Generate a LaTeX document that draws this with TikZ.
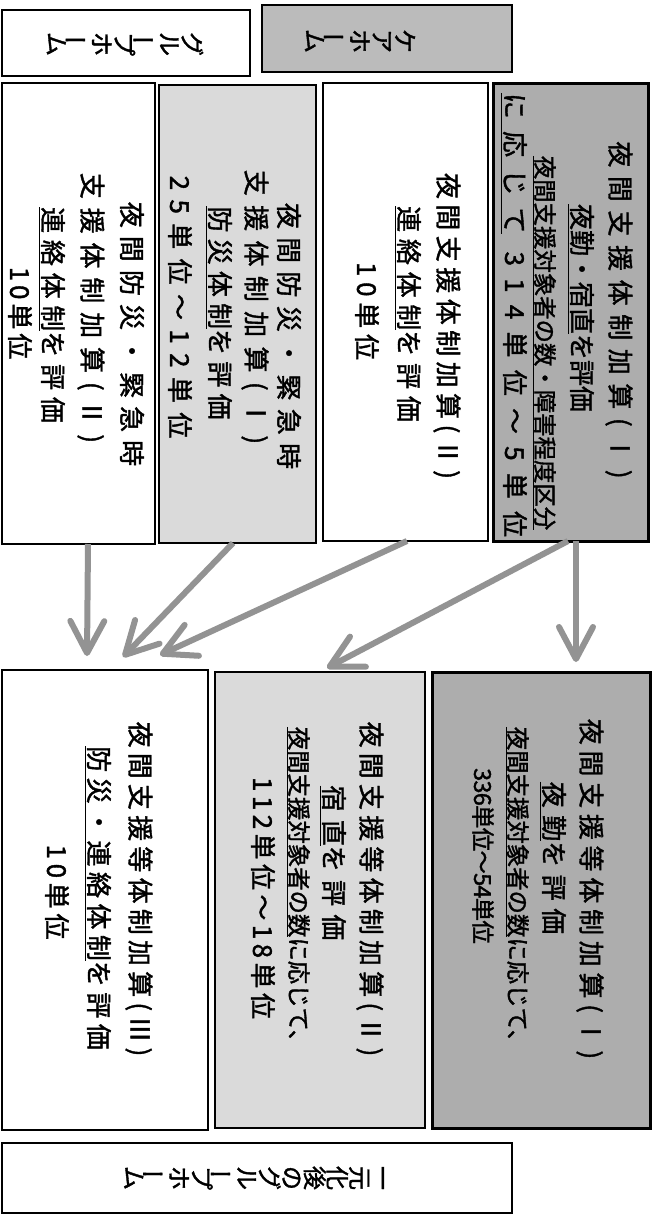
\documentclass[tikz,border=0pt]{standalone}
\usepackage{fontspec}
\usepackage{graphicx}
\setmainfont{Noto Sans CJK JP}[FakeBold=1.5]
\usetikzlibrary{arrows.meta}
\newcommand\lsp[2]{{\addfontfeature{LetterSpace=#1}#2}}
\newcommand\vlong{\rotatebox[origin=c]{90}{ー}}
\definecolor{dgray}{HTML}{ADADAD}
\definecolor{cgray}{HTML}{BBBBBB}
\definecolor{lgray}{HTML}{DADADA}
\definecolor{arrowgray}{HTML}{939393}
\begin{document}
\begin{tikzpicture}[x=1pt,y=-1pt,
  box/.style={draw=black, line width=2.2pt, inner sep=0pt, outer sep=0pt},
  ln/.style={rotate=-90, inner sep=0pt, font=\fontsize{26}{26}\selectfont},
  lnc/.style={rotate=-90, inner sep=0pt, font=\fontsize{23.4}{24}\selectfont},
  hd/.style={rotate=-90, inner sep=0pt, align=center, font={\fontsize{24}{22.6}\selectfont\lineskiplimit=-20pt}},
  arr/.style={draw=arrowgray, line width=6pt, -{Straight Barb[length=32pt,width=34pt,round]}}]
\useasboundingbox (0,0) rectangle (655,1215);
% boxes
\node[box, fill=white, minimum width=248pt, minimum height=66pt] (gh) at (126,43) {};
\node[box, fill=cgray, minimum width=250pt, minimum height=67pt] (ch) at (387,38.5) {};
\node[box, fill=dgray, line width=3pt, minimum width=155pt, minimum height=458pt] (a) at (570.5,312) {};
\node[box, fill=white, minimum width=165pt, minimum height=458pt] (b) at (405.5,312) {};
\node[box, fill=lgray, minimum width=157pt, minimum height=458pt] (c) at (237.5,314) {};
\node[box, fill=white, minimum width=153pt, minimum height=461pt] (d) at (78.5,313.5) {};
\node[box, fill=dgray, line width=3pt, minimum width=218pt, minimum height=456pt] (e) at (541,900) {};
\node[box, fill=lgray, minimum width=210pt, minimum height=456pt] (f) at (320,900) {};
\node[box, fill=white, minimum width=206pt, minimum height=460pt] (g) at (105,900) {};
\node[box, fill=white, minimum width=510pt, minimum height=70pt] (bt) at (257,1178) {};
% header texts
\node[hd] (ght) at (125,44) {グ\\ル\\\vlong\\プ\\ホ\\\vlong\\ム};
\node[hd] (cht) at (360,41) {ケ\\ア\\ホ\\\vlong\\ム};
\node[hd] (btt) at (254,1178) {一\\元\\化\\後\\の\\グ\\ル\\\vlong\\プ\\ホ\\\vlong\\ム};
% box A
\node[ln] (a1) at (619,310) {\lsp{33}{夜間支援体制加算(Ⅰ)}};
\node[ln] (a2) at (581,308) {\lsp{0}{\underline{夜勤・宿直}を評価}};
\node[lnc] (a3) at (544,343) {\underline{夜間支援対象者の数・障害程度区分}};
\node[ln] (a4) at (514,315) {\lsp{47}{\underline{に応じて} 314単位～5単位}};
% box B
\node[ln] (b1) at (447,326) {\lsp{21}{夜間支援体制加算(Ⅱ)}};
\node[ln] (b2) at (408,314) {\lsp{26}{\underline{連絡体制}を評価}};
\node[ln] (b3) at (367,311) {\lsp{22}{10単位}};
% box C
\node[ln] (c1) at (289,336) {\lsp{32}{夜間防災・緊急時}};
\node[ln] (c2) at (255,307) {\lsp{36}{支援体制加算(Ⅰ)}};
\node[ln] (c3) at (219,313) {\lsp{24}{\underline{防災体制}を評価}};
\node[ln] (c4) at (180,307) {\lsp{36}{25単位～12単位}};
% box D
\node[ln] (d1) at (132,334) {\lsp{31}{夜間防災・緊急時}};
\node[ln] (d2) at (91,308) {\lsp{34}{支援体制加算(Ⅱ)}};
\node[ln] (d3) at (52,315) {\lsp{26}{\underline{連絡体制}を評価}};
\node[ln] (d4) at (20,313) {\lsp{15}{10単位}};
% box E
\node[ln] (e1) at (590,889) {\lsp{22}{夜間支援等体制加算(Ⅰ)}};
\node[ln] (e2) at (553,858) {\lsp{29}{\underline{夜勤}を評価}};
\node[lnc] (e3) at (517,890) {\underline{夜間支援対象者の数}に応じて、};
\node[lnc] (e4) at (483,856) {\lsp{-3}{336単位～54単位}};
% box F
\node[ln] (f1) at (370,889) {\lsp{20}{夜間支援等体制加算(Ⅱ)}};
\node[ln] (f2) at (333,863) {\lsp{32}{\underline{宿直}を評価}};
\node[lnc] (f3) at (298,890) {\underline{夜間支援対象者の数}に応じて、};
\node[ln] (f4) at (263,898) {\lsp{17}{112単位～18単位}};
% box G
\node[ln] (g1) at (139,889) {\lsp{20}{夜間支援等体制加算(Ⅲ)}};
\node[ln] (g2) at (98,898) {\lsp{21}{\underline{防災・連絡体制}を評価}};
\node[ln] (g3) at (57,892) {\lsp{18}{10単位}};
% arrows
\coordinate (t1) at (87,656);
\coordinate (t2) at (123,657);
\coordinate (t3) at (160,655);
\coordinate (t4) at (327,668);
\coordinate (t5) at (576,662);
\draw[arr] ([xshift=9.5pt]d.south) -- (t1);
\draw[arr] ([xshift=-4.5pt]c.south) -- (t2);
\draw[arr] ([xshift=1.5pt]b.south) -- (t3);
\draw[arr] ([xshift=-2.5pt]a.south) -- (t4);
\draw[arr] ([xshift=5.5pt]a.south) -- (t5);
\end{tikzpicture}
\end{document}
